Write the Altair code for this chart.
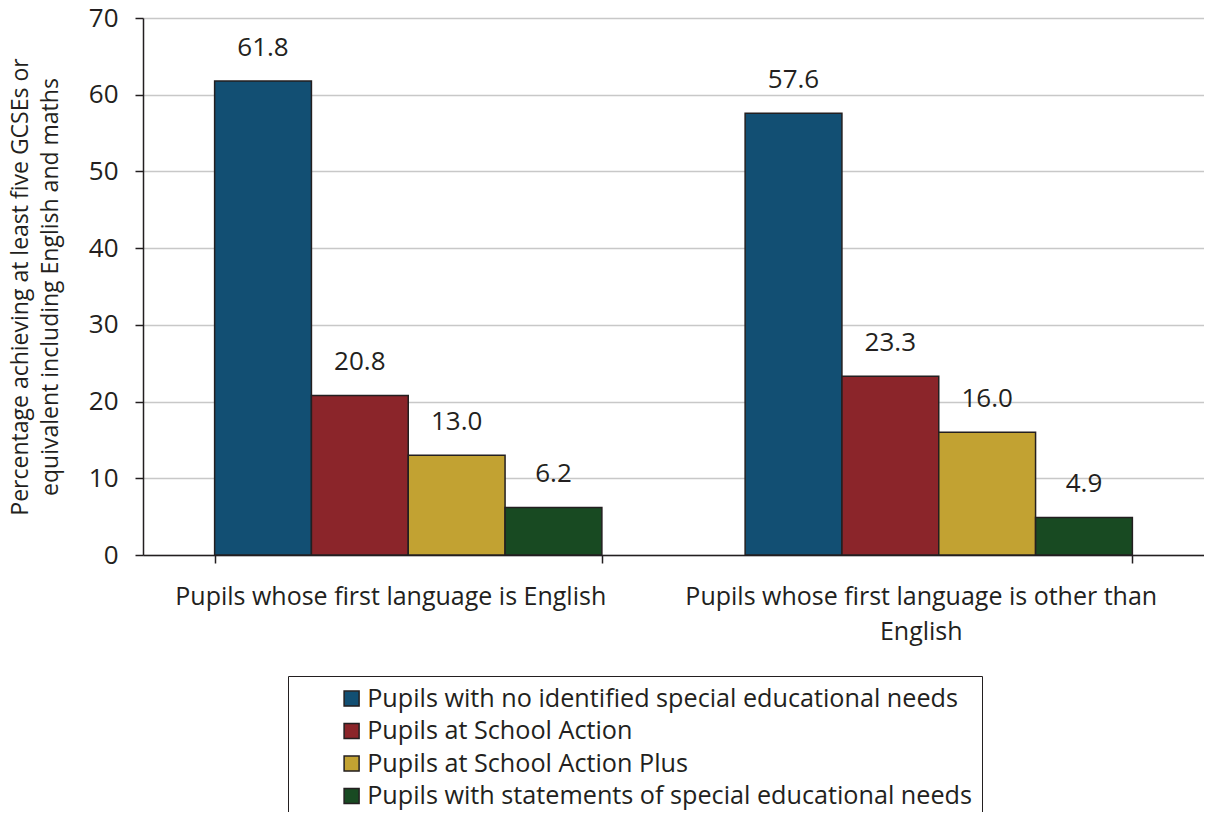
import altair as alt
import pandas as pd

categories = [
    "Pupils whose first language is English",
    "Pupils whose first language is other than|English",
]
series = [
    "Pupils with no identified special educational needs",
    "Pupils at School Action",
    "Pupils at School Action Plus",
    "Pupils with statements of special educational needs",
]
values_english = [61.8, 20.8, 13.0, 6.2]
values_other = [57.6, 23.3, 16.0, 4.9]
colors = ["#124F73", "#8B252A", "#C2A232", "#184A22"]
y_ticks = [0, 10, 20, 30, 40, 50, 60, 70]

rows = []
for cat, vals in zip(categories, [values_english, values_other]):
    for s, v in zip(series, vals):
        rows.append({"category": cat, "series": s, "value": v})
df = pd.DataFrame(rows)

FONT = "Open Sans"
TEXT = "#231F20"

x_enc = alt.X(
    "category:N",
    sort=categories,
    title=None,
    scale=alt.Scale(paddingInner=0.27, paddingOuter=0.135),
    axis=alt.Axis(
        labelAngle=0,
        labelExpr="split(datum.label, '|')",
        tickBand="extent",
        domainColor=TEXT,
        domainWidth=1.5,
        tickColor=TEXT,
        tickWidth=1.5,
        tickSize=8,
        labelFontSize=25,
        labelColor=TEXT,
        labelPadding=21,
        labelLineHeight=35,
        labelOffset=-18,
        labelLimit=800,
        grid=False,
    ),
)
y_enc = alt.Y(
    "value:Q",
    scale=alt.Scale(domain=[0, 70], nice=False),
    title=["Percentage achieving at least five GCSEs or", "equivalent including English and maths"],
    axis=alt.Axis(
        values=y_ticks,
        domainColor=TEXT,
        domainWidth=1.5,
        tickColor=TEXT,
        tickWidth=1.5,
        tickSize=8,
        labelFontSize=26,
        labelColor=TEXT,
        labelPadding=17,
        gridColor="#C8C8C8",
        gridWidth=1.5,
        titleFontSize=23,
        titleFontWeight="normal",
        titleColor=TEXT,
        titlePadding=26,
        titleLineHeight=30,
    ),
)
xoff = alt.XOffset("series:N", sort=series)

bars = alt.Chart(df).mark_bar(stroke=TEXT, strokeWidth=1.5).encode(
    x=x_enc,
    y=y_enc,
    xOffset=xoff,
    color=alt.Color(
        "series:N",
        sort=series,
        scale=alt.Scale(domain=series, range=colors),
        legend=alt.Legend(
            title=None,
            orient="none",
            legendX=145,
            legendY=658,
            direction="vertical",
            symbolType="square",
            symbolSize=225,
            symbolStrokeColor=TEXT,
            symbolStrokeWidth=1.5,
            labelFontSize=25.2,
            labelColor=TEXT,
            labelFont=FONT,
            labelLimit=900,
            labelOffset=3,
            strokeColor=TEXT,
            fillColor="white",
            padding=10,
            symbolOffset=41,
            rowPadding=6.5,
        ),
    ),
)

labels = alt.Chart(df).mark_text(
    fontSize=26, dy=-33, baseline="middle", font=FONT, color=TEXT
).encode(
    x=alt.X("category:N", sort=categories),
    y=alt.Y("value:Q"),
    xOffset=xoff,
    text=alt.Text("value:Q", format=".1f"),
)

chart = (
    alt.layer(bars, labels)
    .properties(
        width=1061,
        height=537,
        autosize=alt.AutoSizeParams(type="none"),
        padding={"left": 135, "top": 10, "right": 0, "bottom": 257},
    )
    .configure_view(stroke=None)
    .configure_axis(labelFont=FONT, titleFont=FONT)
)

chart.save("out.html", embed_options={"renderer": "svg", "actions": False})
